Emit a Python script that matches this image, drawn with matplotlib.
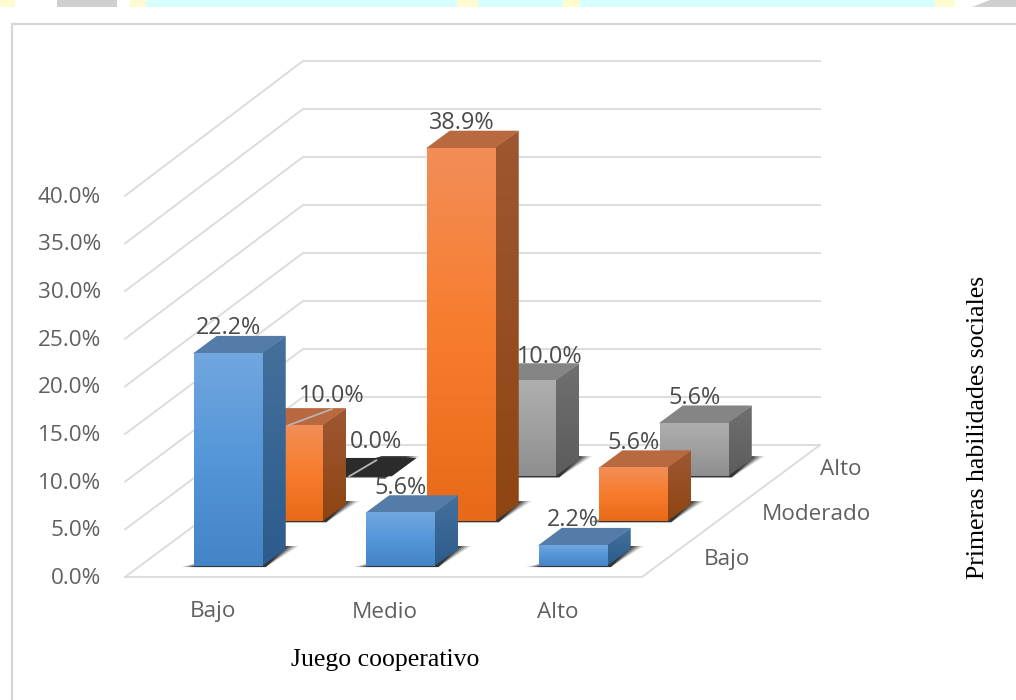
#!/usr/bin/env python3
"""Excel-style 3D clustered columns: Juego cooperativo vs Primeras habilidades sociales."""

import numpy as np
import matplotlib
matplotlib.use('Agg')
import matplotlib.pyplot as plt
from matplotlib.colors import LinearSegmentedColormap
from matplotlib.patches import Polygon, Rectangle

# ── Data ──────────────────────────────────────────────────────────────────────
CATEGORIES = ['Bajo', 'Medio', 'Alto']
SERIES = ['Bajo', 'Moderado', 'Alto']
SERIES_BAJO = [22.2, 5.6, 2.2]
SERIES_MODERADO = [10.0, 38.9, 5.6]
SERIES_ALTO = [0.0, 10.0, 5.6]
TICKS = [0, 5, 10, 15, 20, 25, 30, 35, 40]

# ── Projection (screen pixels) ────────────────────────────────────────────────
ORIGIN_X, ORIGIN_Y = 125, 577
FLOOR_W = 517
DEPTH_DX, DEPTH_DY = 178, -132
PX_PER_PCT = 9.6
FRONT_PX_PER_PCT = 9.53
GROUP_W = 172.5
BAR_W = 69
BAR_LEFT = 54
BAR_DEPTH = 0.129
ROW_START, ROW_STEP = 0.083, 0.34


def proj(x, depth, value=0.0):
    return (ORIGIN_X + x + depth * DEPTH_DX,
            ORIGIN_Y + depth * DEPTH_DY - value * PX_PER_PCT)


# ── Style ─────────────────────────────────────────────────────────────────────
GRID = '#DADADA'
FRAME = '#D6D6D6'
TICK_COLOR = '#606060'
LABEL_COLOR = '#4A4A4A'
SANS = 'Open Sans'
SERIF = 'Liberation Serif'
TICK_SIZE = 16.2
LABEL_SIZE = 16.8
SERIF_SIZE = 18.5

STYLES = [
    dict(front=['#72A7DF', '#5496D8', '#4483C6'], side=['#45709C', '#2B5C8C'], top='#547CA8'),
    dict(front=['#F28E58', '#F77C2C', '#E86A18'], side=['#9E5732', '#8E4512'], top='#B8693F'),
    dict(front=['#AEAEAE', '#A0A0A0', '#8E8E8E'], side=['#707070', '#5C5C5C'], top='#858585'),
]

# label nudges where the original labels were dragged away from their bars
LABEL_SHIFT = {(0, 1): (43, -5), (0, 2): (27, -10), (1, 2): (28, 1)}

fig = plt.figure(figsize=(10.16, 7.0), dpi=100, facecolor='white')
ax = fig.add_axes([0, 0, 1, 1])
ax.set_xlim(0, 1016)
ax.set_ylim(700, 0)
ax.axis('off')

z = [10]


def next_z():
    z[0] += 1
    return z[0]


def grad_poly(points, colors):
    """Fill a polygon with a top-to-bottom gradient."""
    pts = np.array(points)
    cmap = LinearSegmentedColormap.from_list('g', colors)
    im = ax.imshow(np.linspace(0, 1, 256)[:, None], cmap=cmap, aspect='auto',
                   extent=(pts[:, 0].min(), pts[:, 0].max(), pts[:, 1].max(), pts[:, 1].min()),
                   zorder=next_z())
    clip = Polygon(pts, closed=True, transform=ax.transData, fc='none', ec='none')
    ax.add_patch(clip)
    im.set_clip_path(clip)


def draw_bar(col, row, value):
    style = STYLES[row]
    x0 = BAR_LEFT + col * GROUP_W
    x1 = x0 + BAR_W
    d0 = ROW_START + row * ROW_STEP
    d1 = d0 + BAR_DEPTH

    # soft contact shadow on the floor
    lx, ly = proj(x0, d0)
    rx, ry = proj(x1, d0)
    bx, by = proj(x1, d1)
    for grow, alpha in [(13, 0.15), (10, 0.25), (7, 0.35), (4, 0.5), (1, 0.6)]:
        shadow = [(lx - grow, ly + 1), (rx + 3, ry + 1), (bx + grow, by - 3), (bx - 25, by - 3)]
        ax.add_patch(Polygon(shadow, closed=True, fc='#222222', ec='none', alpha=alpha, zorder=next_z()))

    if value <= 0:
        # the zero column collapses to a flat dark plate
        plate = [proj(x0, d0), proj(x1 + 8, d0), proj(x1 + 8, d1 + 0.01), proj(x0, d1 + 0.01)]
        ax.add_patch(Polygon(plate, closed=True, fc='#2B2B2B', ec='none', zorder=next_z()))
        return

    # side and top run a pixel under the front face so no seam shows
    side = [proj(x1 - 1, d0, value), proj(x1, d1, value), proj(x1, d1), proj(x1 - 1, d0)]
    grad_poly(side, style['side'])
    ax.add_patch(Polygon([proj(x0, d0 - 0.005, value), proj(x1, d0 - 0.005, value), proj(x1, d1, value), proj(x0, d1, value)],
                         closed=True, fc=style['top'], ec='none', zorder=next_z()))
    grad_poly([proj(x0, d0, value), proj(x1, d0, value), proj(x1, d0), proj(x0, d0)], style['front'])


# ── Scraps of the page banner above the chart ─────────────────────────────────
for x0, x1, c in [(0, 15, '#FFFBD0'), (57, 117, '#CFCFCF'), (130, 146, '#FFFBD0'),
                  (146, 457, '#D6FFFF'), (457, 478, '#FFFBD0'), (478, 563, '#D6FFFF'),
                  (563, 580, '#FFFBD0'), (580, 935, '#D6FFFF'), (935, 955, '#FFFBD0')]:
    ax.add_patch(Rectangle((x0, 0), x1 - x0, 7, fc=c, ec='none', zorder=1))
ax.add_patch(Polygon([(972, 7), (990, 0), (1016, 0), (1016, 7)], closed=True, fc='#CFCFCF', ec='none', zorder=1))

# chart frame
ax.plot([12, 12, 1016], [700, 24, 24], color=FRAME, lw=1.6, zorder=2, solid_joinstyle='miter')

# ── Walls and floor ───────────────────────────────────────────────────────────
for t in TICKS:
    fx = ORIGIN_X
    fy = ORIGIN_Y - t * FRONT_PX_PER_PCT
    bx, by = proj(0, 1, t)
    ex, ey = proj(FLOOR_W, 1, t)
    ax.plot([fx, bx, ex], [fy, by, ey], color=GRID, lw=1.3, zorder=3)
    ax.text(101, fy + 1.5, f'{t:.1f}%', ha='right', va='center', fontsize=TICK_SIZE,
            color=TICK_COLOR, family=SANS, zorder=100)

ax.plot(*zip(proj(0, 0), proj(FLOOR_W, 0), proj(FLOOR_W, 1)), color=GRID, lw=1.3, zorder=3)

# ── Columns, back row first ───────────────────────────────────────────────────
rows = [SERIES_BAJO, SERIES_MODERADO, SERIES_ALTO]
for row in range(len(rows) - 1, -1, -1):
    for col, value in enumerate(rows[row]):
        draw_bar(col, row, value)

# ── Value labels, with leader lines for the two dragged ones in front of the wall ──
for row, values in enumerate(rows):
    for col, value in enumerate(values):
        x0 = BAR_LEFT + col * GROUP_W
        d0 = ROW_START + row * ROW_STEP
        cx, fy = proj(x0 + BAR_W / 2, d0, value)
        _, ty = proj(x0, d0 + BAR_DEPTH, value)
        dx, dy = LABEL_SHIFT.get((col, row), (0, 0))
        if col == 0 and row in (1, 2):
            ax.plot([cx, cx + dx], [fy, ty + 1], color='#B5B5B5', lw=1.3, zorder=150)
        ax.text(cx + dx, ty - 7.5 + dy, f'{value:.1f}%', ha='center', va='center', fontsize=LABEL_SIZE,
                color=LABEL_COLOR, family=SANS, zorder=200)

# ── Axis labels ───────────────────────────────────────────────────────────────
for col, name in enumerate(CATEGORIES):
    cx, _ = proj(BAR_LEFT + col * GROUP_W + BAR_W / 2, 0)
    ax.text(cx - 1, 612, name, ha='center', va='center', fontsize=TICK_SIZE,
            color=TICK_COLOR, family=SANS, zorder=100)

for row, name in enumerate(SERIES):
    ex, ey = proj(FLOOR_W, ROW_START + row * ROW_STEP + BAR_DEPTH / 2)
    ax.text(ex + 35 - 2 * row, ey + 1.5, name, ha='left', va='center', fontsize=TICK_SIZE,
            color=TICK_COLOR, family=SANS, zorder=100)

ax.text(385, 660, 'Juego cooperativo', ha='center', va='center', fontsize=SERIF_SIZE,
        color='black', family=SERIF)
ax.text(978, 427, 'Primeras habilidades sociales', ha='center', va='center', rotation=90,
        fontsize=SERIF_SIZE, color='black', family=SERIF)

fig.savefig('out.png', dpi=100, facecolor='white')
plt.close(fig)
